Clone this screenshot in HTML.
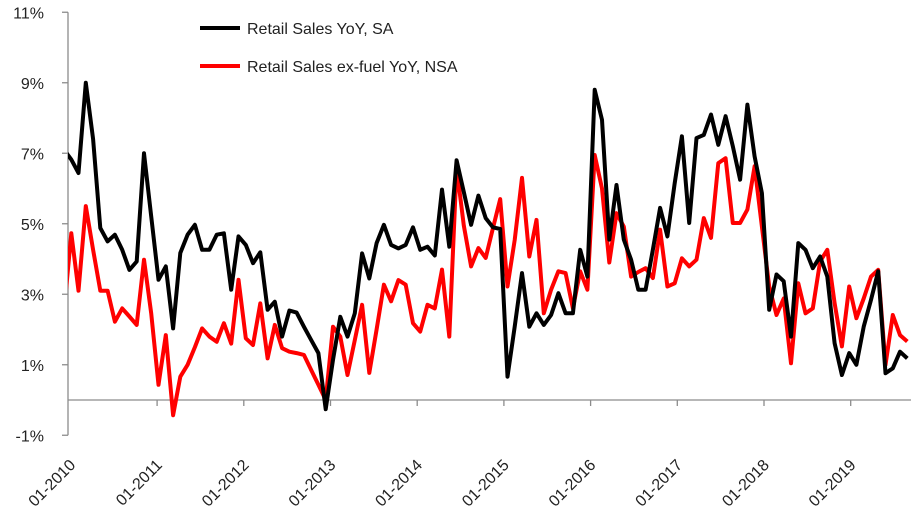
<!DOCTYPE html>
<html><head><meta charset="utf-8"><style>
html,body{margin:0;padding:0;background:#fff;}
svg{display:block;font-family:"Liberation Sans",sans-serif;}
</style></head><body>
<svg id="chart" width="911" height="524" viewBox="0 0 911 524" xmlns="http://www.w3.org/2000/svg">
<defs><clipPath id="plotclip"><rect x="68" y="0" width="843" height="524"/></clipPath></defs>
<g id="axes"></g>
<g id="series" clip-path="url(#plotclip)"></g>
<g id="legend">
  <line x1="200" y1="28" x2="240" y2="28" stroke="#000" stroke-width="4"/>
  <text x="247" y="34" font-size="16" fill="#222">Retail Sales YoY, SA</text>
  <line x1="200" y1="66" x2="240" y2="66" stroke="#f00" stroke-width="4"/>
  <text x="247" y="72" font-size="16" fill="#222">Retail Sales ex-fuel YoY, NSA</text>
</g>
</svg>
<script>
const yTicks = [-1,1,3,5,7,9,11];
const xTickLabels = ["01-2010","01-2011","01-2012","01-2013","01-2014","01-2015","01-2016","01-2017","01-2018","01-2019"];
const salesSA = [7.1,6.82,6.44,9.0,7.4,4.88,4.5,4.69,4.26,3.69, 3.93,7.0,5.21,3.41,3.79,2.03,4.17,4.69,4.97,4.26, 4.26,4.69,4.73,3.13,4.64,4.4,3.88,4.19,2.56,2.79, 1.8,2.54,2.48,2.08,1.7,1.33,-0.26,1.14,2.36,1.8, 2.46,4.16,3.45,4.45,4.97,4.4,4.3,4.4,4.9,4.26, 4.35,4.1,5.97,4.35,6.8,5.9,4.97,5.8,5.16,4.9, 4.85,0.66,2.08,3.6,2.08,2.46,2.13,2.41,3.03,2.46, 2.46,4.26,3.5,8.8,7.95,4.55,6.1,4.55,3.98,3.13, 3.13,4.27,5.45,4.64,6.15,7.48,5.02,7.43,7.52,8.1, 7.24,8.05,7.2,6.25,8.38,6.91,5.87,2.56,3.56,3.37, 1.8,4.45,4.26,3.74,4.07,3.5,1.61,0.71,1.33,1.0, 2.08,2.84,3.65,0.76,0.9,1.37,1.18];
const salesExFuelNSA = [2.5,4.73,3.1,5.5,4.26,3.1,3.1,2.22,2.6,2.37, 2.13,3.98,2.46,0.43,1.84,-0.43,0.66,1.0,1.5,2.03, 1.8,1.65,2.18,1.6,3.41,1.75,1.56,2.74,1.18,2.13, 1.47,1.37,1.33,1.28,0.85,0.43,0.0,2.08,1.8,0.71, 1.7,2.7,0.77,2.0,3.27,2.8,3.4,3.27,2.18,1.94, 2.7,2.6,3.7,1.8,6.6,4.95,3.79,4.31,4.03,4.87, 5.7,3.22,4.54,6.3,4.07,5.11,2.46,3.13,3.65,3.6, 2.6,3.65,3.13,6.95,6.0,3.9,5.3,4.92,3.5,3.63, 3.74,3.46,4.83,3.22,3.31,4.02,3.79,3.98,5.16,4.6, 6.72,6.86,5.02,5.02,5.4,6.63,4.92,3.22,2.41,2.88, 1.04,3.31,2.46,2.6,3.93,4.26,2.75,1.52,3.22,2.32, 2.88,3.5,3.69,1.0,2.41,1.84,1.66];

const NS="http://www.w3.org/2000/svg";
function yScale(v){ return 400 - v*35.25; }
function xScale(i){ return 64 + i*7.27; }
function xTick(k){ return 70.4 + k*86.7; }
function mk(tag, attrs, parent){ const e=document.createElementNS(NS,tag); for(const k in attrs) e.setAttribute(k,attrs[k]); parent.appendChild(e); return e; }

const axes=document.getElementById('axes');
const yAxis = mk('line',{x1:68,y1:yScale(11),x2:68,y2:yScale(-1),stroke:'#8c8c8c','stroke-width':1.3},axes);


yTicks.forEach(v=>{
  const t=mk('line',{x1:62,y1:yScale(v),x2:68,y2:yScale(v),stroke:'#8c8c8c','stroke-width':1.3},axes);
  
  
  const l=mk('text',{x:44,y:yScale(v)+6,'text-anchor':'end','font-size':16,fill:'#222'},axes);
  l.textContent=v+'%';
  
  
});
const xAxis = mk('line',{x1:68,y1:yScale(0),x2:911,y2:yScale(0),stroke:'#8c8c8c','stroke-width':1.3},axes);


xTickLabels.forEach((s,k)=>{
  const x=xTick(k);
  if(k>0){
    const t=mk('line',{x1:x,y1:yScale(0),x2:x,y2:yScale(0)+6,stroke:'#8c8c8c','stroke-width':1.3},axes);
    
    
  }
  const ax=x+6, ay=yScale(0)+66;
  const l=mk('text',{x:ax,y:ay,'text-anchor':'end','font-size':16,fill:'#222',transform:`rotate(-45 ${ax} ${ay})`},axes);
  l.textContent=s;
  
  
});

const series=document.getElementById('series');
function drawLine(vals,color,name){
  const d=vals.map((v,i)=>(i?'L':'M')+xScale(i).toFixed(1)+','+yScale(v).toFixed(1)).join(' ');
  const p=mk('path',{d:d,fill:'none',stroke:color,'stroke-width':4,'stroke-linejoin':'round'},series);
  
  
}
drawLine(salesExFuelNSA,'#ff0000','line-retail-sales-ex-fuel-nsa');
drawLine(salesSA,'#000000','line-retail-sales-sa');
</script>
</body></html>
